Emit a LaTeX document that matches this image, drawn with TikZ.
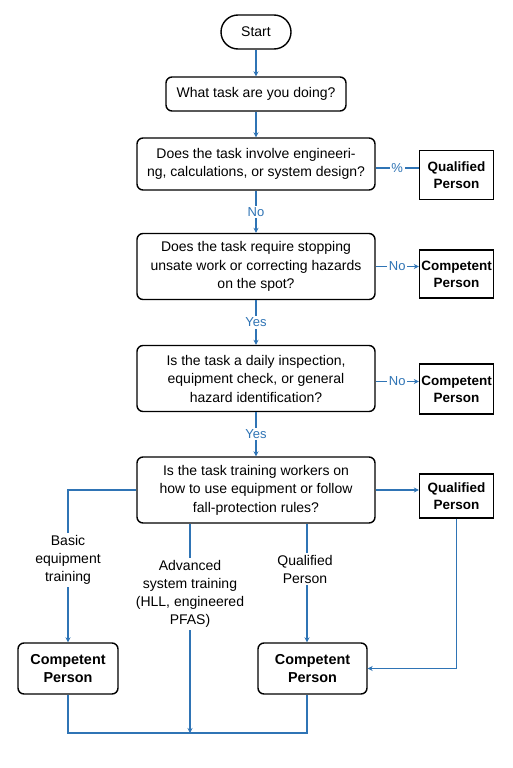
\documentclass[tikz,border=0pt]{standalone}
\usepackage{fontspec}
\setmainfont{Liberation Sans}
\usetikzlibrary{arrows.meta}
\definecolor{flowblue}{HTML}{2F74B5}

\begin{document}
\begin{tikzpicture}[x=1pt, y=-1pt,
    question/.style={rectangle, rounded corners=6pt, draw=black, fill=white,
        minimum width=238pt, align=center, font=\fontsize{14}{18.5}\selectfont,
        inner sep=0pt, line width=1.4pt},
    result/.style={rectangle, draw=black, fill=white, minimum width=74pt,
        align=center, font=\fontsize{13.5}{17}\selectfont\bfseries,
        inner sep=0pt, line width=1.4pt},
    outcome/.style={result, rounded corners=6pt, minimum height=51pt,
        font=\fontsize{14.4}{18}\selectfont\bfseries},
    post/.style={line width=1.2pt, draw=flowblue},
    tip/.style={-{Stealth[length=5pt, width=5pt]}},
    answer/.style={font=\fontsize{13}{16}\selectfont, text=flowblue, fill=white, inner sep=1.5pt},
    branch/.style={font=\fontsize{14}{18}\selectfont, align=center, fill=white, inner sep=2pt},
]
\useasboundingbox (0,0) rectangle (512,768);
  % decision chain
  \node[question, rounded corners=17pt, minimum width=70pt, minimum height=34pt] (n_start) at (256, 32) {Start};
  \node[question, minimum width=180pt, minimum height=34pt] (q_task) at (256, 94) {What task are you doing?};
  \node[question, minimum height=52pt] (q_eng) at (256, 164) {Does the task involve engineeri-\\ng, calculations, or system design?};
  \node[question, minimum height=66pt] (q_stop) at (256, 266.5) {Does the task require stopping\\unsate work or correcting hazards\\on the spot?};
  \node[question, minimum height=66pt] (q_daily) at (256, 378.5) {Is the task a daily inspection,\\equipment check, or general\\hazard identification?};
  \node[question, minimum height=66pt] (q_train) at (256, 490) {Is the task training workers on\\how to use equipment or follow\\fall-protection rules?};
  \node[result, minimum height=49pt] (r_qual_a) at (456.5, 175) {Qualified\\Person};
  \node[result, minimum height=48pt] (r_comp_a) at (456.5, 274) {Competent\\Person};
  \node[result, minimum height=50pt] (r_comp_b) at (456.5, 389) {Competent\\Person};
  \node[result, minimum height=44pt] (r_qual_b) at (456.5, 496) {Qualified\\Person};
  \node[outcome, minimum width=100pt] (c_comp_a) at (68, 668.5) {Competent\\Person};
  \node[outcome, minimum width=109pt] (c_comp_b) at (312.5, 668.5) {Competent\\Person};
  \coordinate (j_bottom) at (190, 733);
  \coordinate (j_qual) at (307, 733);
  \draw[post, tip] (n_start) -- (q_task);
  \draw[post, tip] (q_task) -- (q_eng);
  \draw[post, tip] (q_eng) -- node[answer] {No} (q_stop);
  \draw[post, tip] (q_stop) -- node[answer] {Yes} (q_daily);
  \draw[post, tip] (q_daily) -- node[answer] {Yes} (q_train);
  \draw[post] ([yshift=-4pt]q_eng.east) -- node[answer] {\%} ([yshift=-4pt]q_eng.east -| r_qual_a.west);
  \draw[post, tip] (q_stop.east) -- node[answer] {No} (q_stop.east -| r_comp_a.west);
  \draw[post, tip] ([yshift=-3pt]q_daily.east) -- node[answer] {No} ([yshift=-3pt]q_daily.east -| r_comp_b.west);
  % training branches
  \draw[post, tip] (q_train.west) -| (c_comp_a.north);
  \node[branch] (l_basic) at (68, 560) {Basic\\equipment\\training};
  \draw[post, tip] (q_train.south -| j_bottom) -- (j_bottom);
  \node[branch] (l_adv) at (190, 594) {Advanced\\system training\\(HLL, engineered\\PFAS)};
  \draw[post, tip] (q_train.south -| j_qual) -- (c_comp_b.north -| j_qual);
  \node[branch] (l_qual) at (305, 569) {Qualified\\Person};
  \draw[post, tip] (q_train.east) -- (q_train.east -| r_qual_b.west);
  \draw[post, tip] (r_qual_b.south) |- (c_comp_b.east);
  \draw[post] (c_comp_a.south) |- (j_bottom) -- (j_qual) -- (c_comp_b.south -| j_qual);
\end{tikzpicture}
\end{document}
